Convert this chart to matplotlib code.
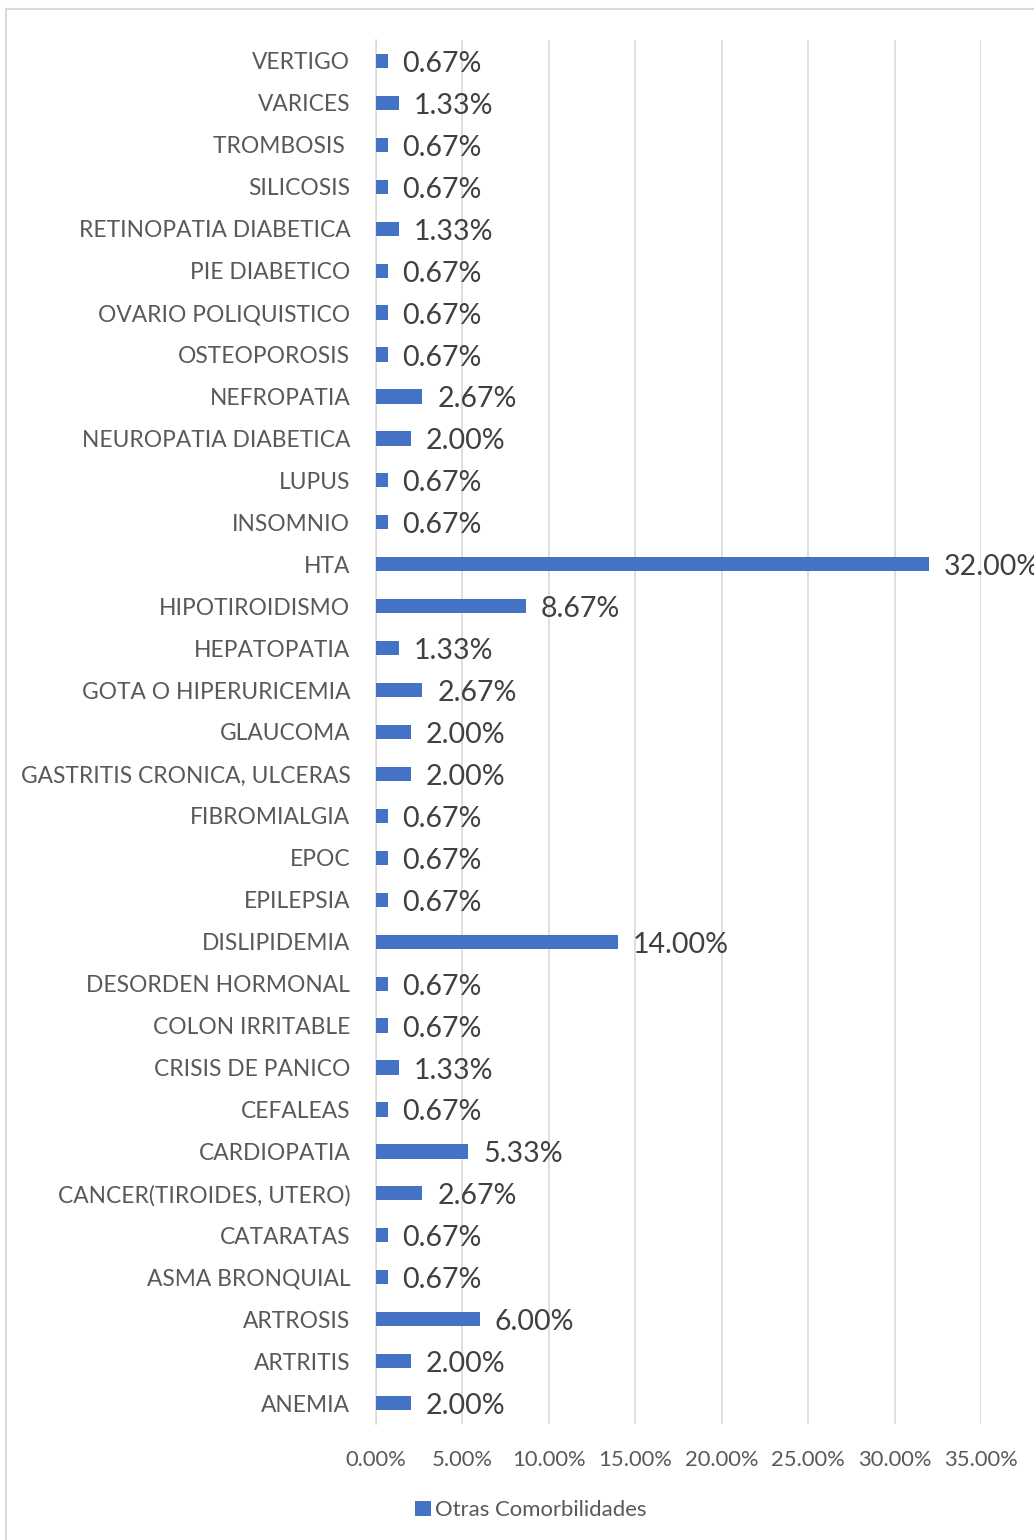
import matplotlib
matplotlib.use("Agg")
import matplotlib.pyplot as plt
from matplotlib.patches import Rectangle
from matplotlib.ticker import FuncFormatter

categories = [
    "ANEMIA", "ARTRITIS", "ARTROSIS", "ASMA BRONQUIAL", "CATARATAS",
    "CANCER(TIROIDES, UTERO)", "CARDIOPATIA", "CEFALEAS", "CRISIS DE PANICO",
    "COLON IRRITABLE", "DESORDEN HORMONAL", "DISLIPIDEMIA", "EPILEPSIA", "EPOC",
    "FIBROMIALGIA", "GASTRITIS CRONICA, ULCERAS", "GLAUCOMA",
    "GOTA O HIPERURICEMIA", "HEPATOPATIA", "HIPOTIROIDISMO", "HTA", "INSOMNIO",
    "LUPUS", "NEUROPATIA DIABETICA", "NEFROPATIA", "OSTEOPOROSIS",
    "OVARIO POLIQUISTICO", "PIE DIABETICO", "RETINOPATIA DIABETICA",
    "SILICOSIS", "TROMBOSIS ", "VARICES", "VERTIGO",
]
values = [
    2.00, 2.00, 6.00, 0.67, 0.67,
    2.67, 5.33, 0.67, 1.33,
    0.67, 0.67, 14.00, 0.67, 0.67,
    0.67, 2.00, 2.00,
    2.67, 1.33, 8.67, 32.00, 0.67,
    0.67, 2.00, 2.67, 0.67,
    0.67, 0.67, 1.33,
    0.67, 0.67, 1.33, 0.67,
]
series_name = "Otras Comorbilidades"
xticks = [0, 5, 10, 15, 20, 25, 30, 35]

W, H = 1034, 1540
fig = plt.figure(figsize=(W / 100, H / 100), dpi=100)
font = "Lato"
txt_color = "#595959"
bar_color = "#4472C4"

# outer chart border
fig.patches.append(Rectangle((6 / W, -0.01), 1.1, 1 - 9 / H + 0.01,
                             transform=fig.transFigure, fill=False,
                             edgecolor="#D9D9D9", linewidth=1.5))

left, right, top, bottom = 376, 981, 40, 1424
ax = fig.add_axes([left / W, 1 - bottom / H, (right - left) / W, (bottom - top) / H])

y = list(range(len(categories)))
bars = ax.barh(y, values, height=0.34, color=bar_color, label=series_name, zorder=3)

ax.set_xlim(0, 35)
ax.set_ylim(-0.5, len(categories) - 0.5)
ax.set_xticks(xticks)
ax.xaxis.set_major_formatter(FuncFormatter(lambda v, p: f"{v:.2f}%"))
ax.set_yticks(y)
ax.set_yticklabels(categories)
ax.grid(axis="x", color="#D9D9D9", linewidth=1.2, zorder=0)
for s in ["top", "right", "bottom"]:
    ax.spines[s].set_visible(False)
ax.spines["left"].set_color("#D9D9D9")
ax.spines["left"].set_linewidth(1.2)
ax.tick_params(axis="both", length=0)
ax.tick_params(axis="y", pad=18.5)
ax.tick_params(axis="x", pad=18.5)
for lab in ax.get_yticklabels():
    lab.set_fontfamily(font)
    lab.set_fontsize(16.35)
    lab.set_color(txt_color)
for lab in ax.get_xticklabels():
    lab.set_fontfamily(font)
    lab.set_fontsize(15.8)
    lab.set_color(txt_color)

for yi, v in zip(y, values):
    ax.annotate(f"{v:.2f}%", xy=(v, yi), xytext=(15, -3), textcoords="offset pixels",
                va="center", ha="left", fontsize=20.5, family=font, color="#404040",
                annotation_clip=False, zorder=4)

leg = fig.legend(handles=[bars], labels=[series_name], loc="center",
                 bbox_to_anchor=(531 / W, 1 - 1510 / H), frameon=False,
                 prop={"family": font, "size": 15.9}, handlelength=0.7,
                 handleheight=0.7, handletextpad=0.2)
for t in leg.get_texts():
    t.set_color(txt_color)

fig.savefig("out.png", dpi=100)
